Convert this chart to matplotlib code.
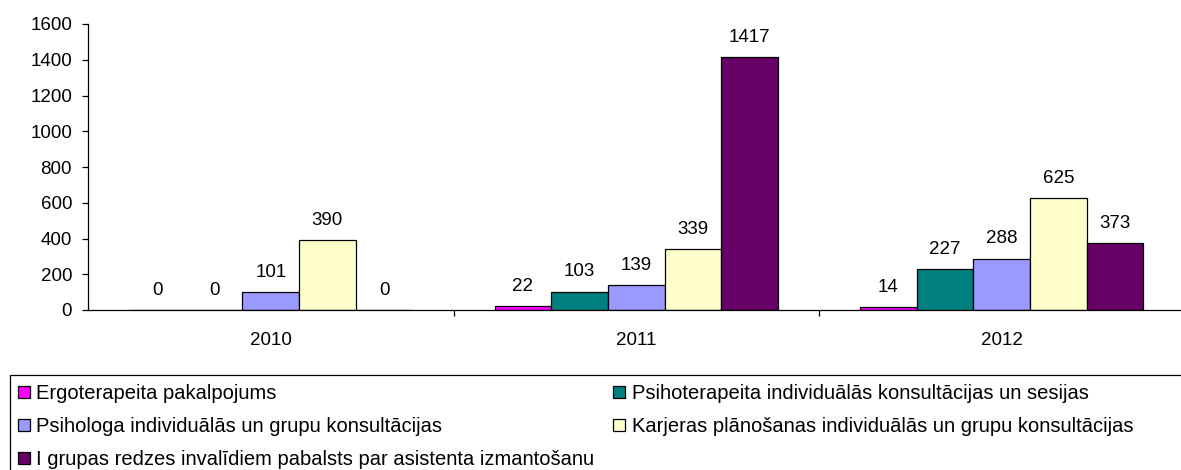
import matplotlib.pyplot as plt
from matplotlib.patches import Rectangle
import numpy as np

plt.rcParams['font.family'] = ['Liberation Sans', 'DejaVu Sans']

years = ['2010', '2011', '2012']
series_names = [
    'Ergoterapeita pakalpojums',
    'Psihoterapeita individuālās konsultācijas un sesijas',
    'Psihologa individuālās un grupu konsultācijas',
    'Karjeras plānošanas individuālās un grupu konsultācijas',
    'I grupas redzes invalīdiem pabalsts par asistenta izmantošanu',
]
ergo = [0, 22, 14]
psihoterapeita = [0, 103, 227]
psihologa = [101, 139, 288]
karjeras = [390, 339, 625]
pabalsts = [0, 1417, 373]
colors = ['#FF00FF', '#008080', '#9999FF', '#FFFFCC', '#660066']

data = [ergo, psihoterapeita, psihologa, karjeras, pabalsts]

fig = plt.figure(figsize=(11.81, 4.70), dpi=100)
ax = fig.add_axes([88 / 1181, 1 - 310 / 470, 1 - 88 / 1181 + 0.003, (310 - 24) / 470])

x = np.arange(len(years))
w = 0.155
handles = []
for i, (vals, c) in enumerate(zip(data, colors)):
    pos = x + (i - 2) * w
    b = ax.bar(pos, vals, width=w, color=c, edgecolor='black', linewidth=0.9, label=series_names[i])
    handles.append(b)
    for xp, v in zip(pos, vals):
        ax.annotate(str(v), (xp, v), xytext=(0, 8), textcoords='offset points',
                    ha='center', va='bottom', fontsize=13.5)

ax.set_xlim(-0.5, 2.5)
ax.set_ylim(0, 1600)
ax.set_yticks(range(0, 1601, 200))
ax.set_xticks(x)
ax.set_xticklabels(years)
ax.set_xticks([0.5, 1.5], minor=True)
ax.tick_params(axis='x', which='major', length=0, pad=16, labelsize=13.5)
ax.tick_params(axis='x', which='minor', length=4.5, direction='out', width=0.9)
ax.tick_params(axis='y', length=4.5, width=0.9, pad=7, labelsize=13.5)
for s in ['top', 'right']:
    ax.spines[s].set_visible(False)
ax.spines['left'].set_linewidth(0.9)
ax.spines['bottom'].set_linewidth(0.9)

# legend frame (runs off the right and bottom edges, as in the source)
fig.patches.append(Rectangle((10 / 1181, -0.05), 1.1, 1 - 375 / 470 + 0.05,
                             transform=fig.transFigure, fill=False,
                             edgecolor='black', linewidth=0.9))

order = [0, 2, 4, 1, 3]
leg = fig.legend([handles[i] for i in order], [series_names[i] for i in order],
                 loc='upper left', bbox_to_anchor=(18 / 1181, 1 - 384 / 470),
                 ncol=2, frameon=False, fontsize=14.5, handlelength=0.6,
                 handleheight=0.6, handletextpad=0.3, labelspacing=0.7,
                 columnspacing=0.95, borderaxespad=0, borderpad=0)

fig.savefig('out.png', dpi=100)
